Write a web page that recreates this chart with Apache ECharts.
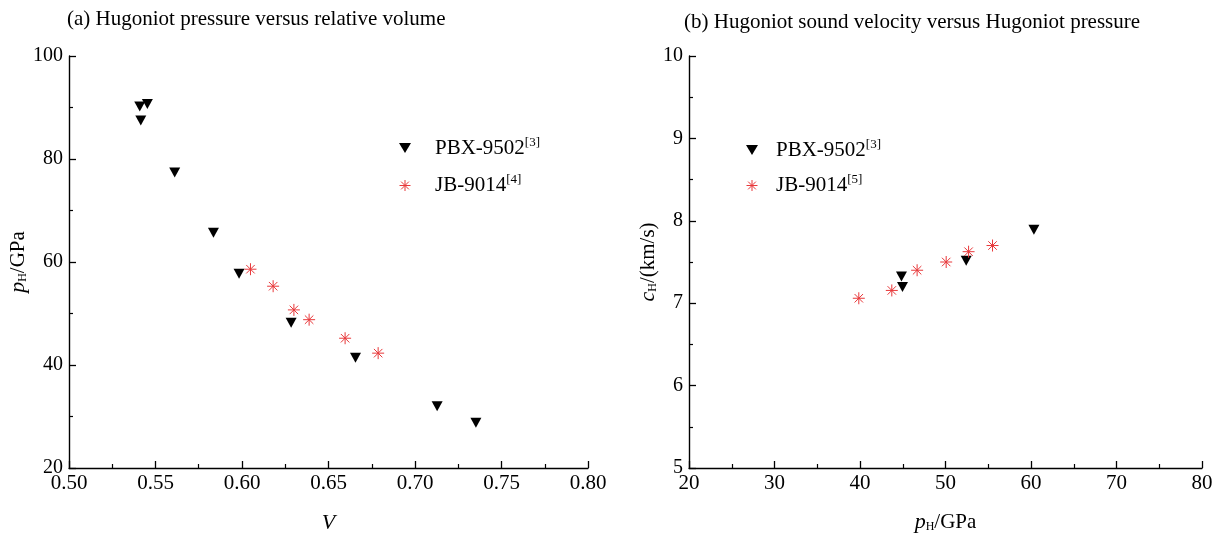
<!DOCTYPE html>
<html>
<head>
<meta charset="utf-8">
<script src="https://cdn.jsdelivr.net/npm/echarts@6/dist/echarts.min.js"></script>
<style>html,body{margin:0;padding:0;background:#fff}#c{width:1225px;height:538px}</style>
</head>
<body>
<div id="c"></div>
<script>
// Panel (a): Hugoniot pressure vs relative volume
const pbxA_V = [0.5409, 0.5453, 0.5415, 0.5611, 0.5835, 0.5983, 0.6284, 0.6656, 0.7128, 0.7352];
const pbxA_p = [90.2, 90.7, 87.5, 77.4, 65.7, 57.7, 48.2, 41.4, 32.0, 28.8];
const jbA_V = [0.6049, 0.6180, 0.6300, 0.6388, 0.6596, 0.6787];
const jbA_p = [58.6, 55.3, 50.7, 48.8, 45.2, 42.3];
// Panel (b): Hugoniot sound velocity vs Hugoniot pressure
const pbxB_p = [44.85, 44.97, 52.42, 60.34];
const pbxB_c = [7.325, 7.197, 7.516, 7.89];
const jbB_p = [39.86, 43.72, 46.68, 50.08, 52.70, 55.5];
const jbB_c = [7.06, 7.155, 7.40, 7.50, 7.625, 7.70];

const titles = ['(a) Hugoniot pressure versus relative volume', '(b) Hugoniot sound velocity versus Hugoniot pressure'];
const xTicksA = {min: 0.5, max: 0.8, interval: 0.05};
const yTicksA = {min: 20, max: 100, interval: 20};
const xTicksB = {min: 20, max: 80, interval: 10};
const yTicksB = {min: 5, max: 10, interval: 1};

const FONT = 'Liberation Serif';
const RED = '#e8383a';
const ASTER = 'path://M6,0L6,12M0,6L12,6M1.76,1.76L10.24,10.24M10.24,1.76L1.76,10.24';
const TRI = 'path://M0,0L12,0L6,10Z';
const zip = (a, b) => a.map((v, i) => [v, b[i]]);

function rich(sp) {
  return {
    sp: {width: sp},
    n: {fontFamily: FONT, fontSize: 21, color: '#000', lineHeight: 24},
    sup: {fontFamily: FONT, fontSize: 13, color: '#000', verticalAlign: 'top', lineHeight: 13, padding: [0, 0, 9, 0]},
    it: {fontFamily: FONT, fontSize: 22, color: '#000', fontStyle: 'italic'},
    sub: {fontFamily: FONT, fontSize: 12, color: '#000', padding: [9, 0, 0, 0]},
    r: {fontFamily: FONT, fontSize: 21, color: '#000'}
  };
}

function axisCommon(t, fmt, isY) {
  return {
    min: t.min, max: t.max, interval: t.interval,
    axisLine: {show: true, onZero: false, lineStyle: {color: '#000', width: 1.4}},
    axisTick: {show: true, inside: true, length: 7, lineStyle: {color: '#000', width: 1.3}},
    minorTick: {show: true, splitNumber: 2, length: 4, lineStyle: {color: '#000', width: 1.2}},
    splitLine: {show: false},
    axisLabel: {fontFamily: FONT, fontSize: isY ? 20 : 21, color: '#000', margin: isY ? 6 : 5, formatter: fmt, showMinLabel: true, showMaxLabel: true}
  };
}

const legendFmt = {
  'PBX-9502 (a)': '{sp|}{n|PBX-9502}{sup|[3]}',
  'JB-9014 (a)': '{sp|}{n|JB-9014}{sup|[4]}',
  'PBX-9502 (b)': '{sp|}{n|PBX-9502}{sup|[3]}',
  'JB-9014 (b)': '{sp|}{n|JB-9014}{sup|[5]}'
};
const legItems = (a, b) => [
  {name: a, icon: TRI, itemStyle: {color: '#000', borderWidth: 0}},
  {name: b, icon: ASTER, itemStyle: {color: RED, borderColor: RED, borderWidth: 1}}
];

const option = {
  animation: false,
  backgroundColor: '#fff',
  title: [
    {text: titles[0], left: 62, top: 4, textStyle: {fontFamily: FONT, fontSize: 21, fontWeight: 'normal', color: '#000'}},
    {text: titles[1], left: 679, top: 7, textStyle: {fontFamily: FONT, fontSize: 21, fontWeight: 'normal', color: '#000'}}
  ],
  grid: [
    {left: 69, right: 637, top: 56, bottom: 70, containLabel: false, outerBoundsMode: 'none'},
    {left: 689, right: 23, top: 56, bottom: 70, containLabel: false, outerBoundsMode: 'none'}
  ],
  legend: [
    {data: legItems('PBX-9502 (a)', 'JB-9014 (a)'), orient: 'vertical', left: 394, top: 131, itemWidth: 12, itemHeight: 11, itemGap: 15,
     formatter: n => legendFmt[n], textStyle: {rich: rich(19)}},
    {data: legItems('PBX-9502 (b)', 'JB-9014 (b)'), orient: 'vertical', left: 741, top: 133, itemWidth: 12, itemHeight: 11, itemGap: 13,
     formatter: n => legendFmt[n], textStyle: {rich: rich(13)}}
  ],
  xAxis: [
    Object.assign(axisCommon(xTicksA, v => v.toFixed(2), false), {gridIndex: 0, type: 'value', name: '{it|V}', nameLocation: 'middle', nameGap: 44,
      nameTextStyle: {rich: rich(0)}}),
    Object.assign(axisCommon(xTicksB, v => String(v), false), {gridIndex: 1, type: 'value', name: '{it|p}{sub|H}{r|/GPa}', nameLocation: 'middle', nameGap: 43,
      nameTextStyle: {rich: rich(0)}})
  ],
  yAxis: [
    Object.assign(axisCommon(yTicksA, v => String(v), true), {gridIndex: 0, type: 'value', name: '{it|p}{sub|H}{r|/GPa}', nameLocation: 'middle', nameGap: 35, nameRotate: 90,
      nameTextStyle: {rich: rich(0)}}),
    Object.assign(axisCommon(yTicksB, v => String(v), true), {gridIndex: 1, type: 'value', name: '{it|c}{sub|H}{r|/(km/s)}', nameLocation: 'middle', nameGap: 30, nameRotate: 90,
      nameTextStyle: {rich: rich(0)}})
  ],
  series: [
    {name: 'PBX-9502 (a)', type: 'scatter', xAxisIndex: 0, yAxisIndex: 0, data: zip(pbxA_V, pbxA_p), symbol: 'triangle', symbolRotate: 180, symbolSize: [11, 10], itemStyle: {color: '#000', opacity: 1}},
    {name: 'JB-9014 (a)', type: 'scatter', xAxisIndex: 0, yAxisIndex: 0, data: zip(jbA_V, jbA_p), symbol: ASTER, symbolSize: 12, itemStyle: {color: RED, borderColor: RED, borderWidth: 1, opacity: 1}},
    {name: 'PBX-9502 (b)', type: 'scatter', xAxisIndex: 1, yAxisIndex: 1, data: zip(pbxB_p, pbxB_c), symbol: 'triangle', symbolRotate: 180, symbolSize: [11, 10], itemStyle: {color: '#000', opacity: 1}},
    {name: 'JB-9014 (b)', type: 'scatter', xAxisIndex: 1, yAxisIndex: 1, data: zip(jbB_p, jbB_c), symbol: ASTER, symbolSize: 12, itemStyle: {color: RED, borderColor: RED, borderWidth: 1, opacity: 1}}
  ]
};
echarts.init(document.getElementById('c'), null, {renderer: 'canvas'}).setOption(option);
</script>
</body>
</html>
